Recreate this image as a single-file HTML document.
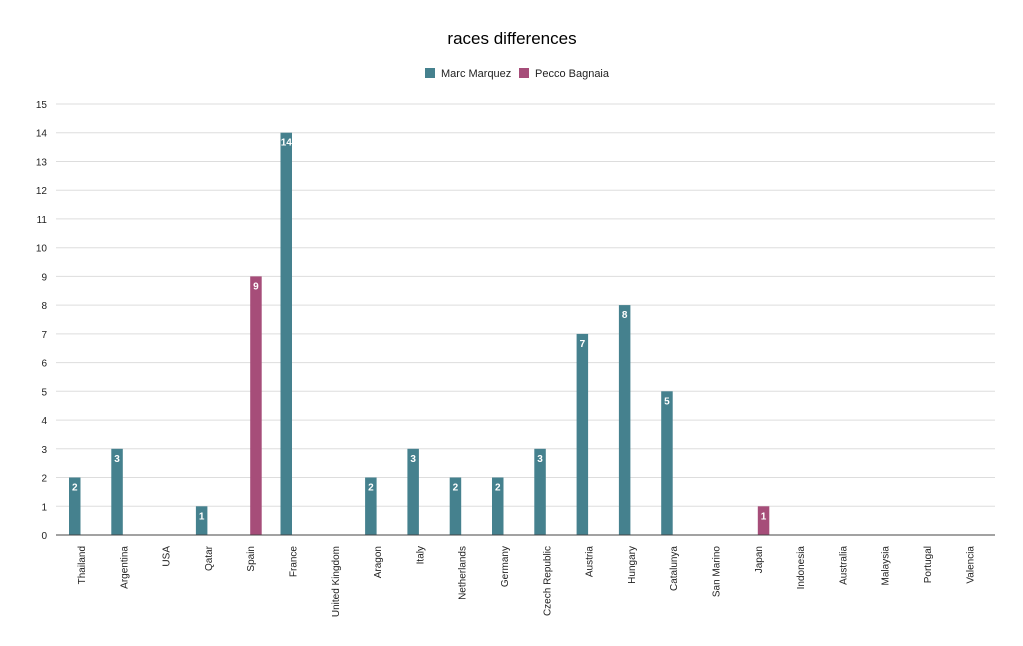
<!DOCTYPE html>
<html><head><meta charset="utf-8"><style>body{margin:0;background:#fff}</style></head><body>
<svg width="1023" height="641" xmlns="http://www.w3.org/2000/svg" font-family="Liberation Sans, sans-serif">
<rect width="1023" height="641" fill="#fff"/>
<text x="512" y="44" text-anchor="middle" font-size="17" fill="#000">races differences</text>
<rect x="425" y="68" width="10" height="10" fill="#45818e"/>
<text x="441" y="77" font-size="11" fill="#222">Marc Marquez</text>
<rect x="519" y="68" width="10" height="10" fill="#a64d79"/>
<text x="535" y="77" font-size="11" fill="#222">Pecco Bagnaia</text>
<g stroke="#ddd" stroke-width="1">
<line x1="56" x2="995" y1="506.3" y2="506.3"/><line x1="56" x2="995" y1="477.5" y2="477.5"/><line x1="56" x2="995" y1="448.8" y2="448.8"/><line x1="56" x2="995" y1="420.1" y2="420.1"/><line x1="56" x2="995" y1="391.3" y2="391.3"/><line x1="56" x2="995" y1="362.6" y2="362.6"/><line x1="56" x2="995" y1="333.9" y2="333.9"/><line x1="56" x2="995" y1="305.1" y2="305.1"/><line x1="56" x2="995" y1="276.4" y2="276.4"/><line x1="56" x2="995" y1="247.7" y2="247.7"/><line x1="56" x2="995" y1="218.9" y2="218.9"/><line x1="56" x2="995" y1="190.2" y2="190.2"/><line x1="56" x2="995" y1="161.5" y2="161.5"/><line x1="56" x2="995" y1="132.7" y2="132.7"/><line x1="56" x2="995" y1="104" y2="104"/>
</g>
<g font-size="10" fill="#222" text-anchor="end">
<text x="47" y="539">0</text><text x="47" y="510.3">1</text><text x="47" y="481.5">2</text><text x="47" y="452.8">3</text><text x="47" y="424.1">4</text><text x="47" y="395.3">5</text><text x="47" y="366.6">6</text><text x="47" y="337.9">7</text><text x="47" y="309.1">8</text><text x="47" y="280.4">9</text><text x="47" y="251.7">10</text><text x="47" y="222.9">11</text><text x="47" y="194.2">12</text><text x="47" y="165.5">13</text><text x="47" y="136.7">14</text><text x="47" y="108">15</text>
</g>
<g font-size="10" font-weight="bold" text-anchor="middle">
<g transform="translate(69,477.5)"><rect width="11.5" height="57.5" fill="#45818e"/><text x="5.75" y="13" fill="#fff">2</text></g>
<g transform="translate(111.3,448.8)"><rect width="11.5" height="86.2" fill="#45818e"/><text x="5.75" y="13" fill="#fff">3</text></g>
<g transform="translate(195.9,506.3)"><rect width="11.5" height="28.7" fill="#45818e"/><text x="5.75" y="13" fill="#fff">1</text></g>
<g transform="translate(250.2,276.4)"><rect width="11.5" height="258.6" fill="#a64d79"/><text x="5.75" y="13" fill="#fff">9</text></g>
<g transform="translate(280.5,132.7)"><rect width="11.5" height="402.3" fill="#45818e"/><text x="5.75" y="13" fill="#fff">14</text></g>
<g transform="translate(365.1,477.5)"><rect width="11.5" height="57.5" fill="#45818e"/><text x="5.75" y="13" fill="#fff">2</text></g>
<g transform="translate(407.4,448.8)"><rect width="11.5" height="86.2" fill="#45818e"/><text x="5.75" y="13" fill="#fff">3</text></g>
<g transform="translate(449.7,477.5)"><rect width="11.5" height="57.5" fill="#45818e"/><text x="5.75" y="13" fill="#fff">2</text></g>
<g transform="translate(492,477.5)"><rect width="11.5" height="57.5" fill="#45818e"/><text x="5.75" y="13" fill="#fff">2</text></g>
<g transform="translate(534.3,448.8)"><rect width="11.5" height="86.2" fill="#45818e"/><text x="5.75" y="13" fill="#fff">3</text></g>
<g transform="translate(576.6,333.9)"><rect width="11.5" height="201.1" fill="#45818e"/><text x="5.75" y="13" fill="#fff">7</text></g>
<g transform="translate(618.9,305.1)"><rect width="11.5" height="229.9" fill="#45818e"/><text x="5.75" y="13" fill="#fff">8</text></g>
<g transform="translate(661.2,391.3)"><rect width="11.5" height="143.7" fill="#45818e"/><text x="5.75" y="13" fill="#fff">5</text></g>
<g transform="translate(757.8,506.3)"><rect width="11.5" height="28.7" fill="#a64d79"/><text x="5.75" y="13" fill="#fff">1</text></g>
</g>
<line x1="56" x2="995" y1="535" y2="535" stroke="#444" stroke-width="1"/>
<g font-size="10" fill="#222" text-anchor="end">
<text transform="translate(85,546) rotate(-90)">Thailand</text>
<text transform="translate(127.3,546) rotate(-90)">Argentina</text>
<text transform="translate(169.6,546) rotate(-90)">USA</text>
<text transform="translate(211.9,546) rotate(-90)">Qatar</text>
<text transform="translate(254.2,546) rotate(-90)">Spain</text>
<text transform="translate(296.5,546) rotate(-90)">France</text>
<text transform="translate(338.8,546) rotate(-90)">United Kingdom</text>
<text transform="translate(381.1,546) rotate(-90)">Aragon</text>
<text transform="translate(423.4,546) rotate(-90)">Italy</text>
<text transform="translate(465.7,546) rotate(-90)">Netherlands</text>
<text transform="translate(508,546) rotate(-90)">Germany</text>
<text transform="translate(550.3,546) rotate(-90)">Czech Republic</text>
<text transform="translate(592.6,546) rotate(-90)">Austria</text>
<text transform="translate(634.9,546) rotate(-90)">Hungary</text>
<text transform="translate(677.2,546) rotate(-90)">Catalunya</text>
<text transform="translate(719.5,546) rotate(-90)">San Marino</text>
<text transform="translate(761.8,546) rotate(-90)">Japan</text>
<text transform="translate(804.1,546) rotate(-90)">Indonesia</text>
<text transform="translate(846.4,546) rotate(-90)">Australia</text>
<text transform="translate(888.7,546) rotate(-90)">Malaysia</text>
<text transform="translate(931,546) rotate(-90)">Portugal</text>
<text transform="translate(973.3,546) rotate(-90)">Valencia</text>
</g>
</svg>
</body></html>
